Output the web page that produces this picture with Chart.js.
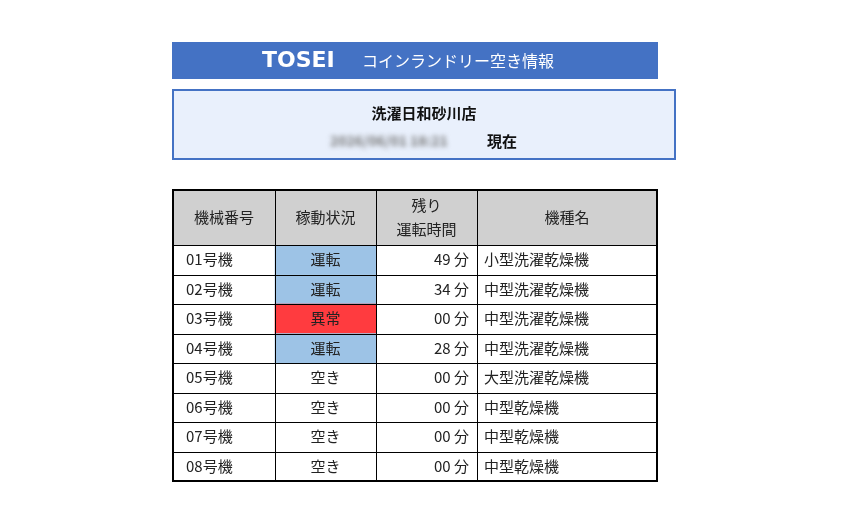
<!DOCTYPE html>
<html><head><meta charset="utf-8">
<script src="https://cdn.jsdelivr.net/npm/chart.js@4"></script>
<style>body{margin:0;background:#fff}#w{position:relative;width:855px;height:528px}
#d{position:absolute;left:330px;top:130px;font:bold 14px "Noto Sans CJK JP";color:#777;filter:blur(2.5px)}</style>
</head><body><div id="w"><canvas id="c" width="855" height="528"></canvas><div id="d">2026/06/01 18:21</div></div>
<script>
const machines = ['01号機','02号機','03号機','04号機','05号機','06号機','07号機','08号機'];
const statuses = ['運転','運転','異常','運転','空き','空き','空き','空き'];
const minutes = ['49','34','00','28','00','00','00','00'];
const models = ['小型洗濯乾燥機','中型洗濯乾燥機','中型洗濯乾燥機','中型洗濯乾燥機','大型洗濯乾燥機','中型乾燥機','中型乾燥機','中型乾燥機'];
const headers = ['機械番号','稼動状況','残り\n運転時間','機種名'];
const colEdges = [173, 275, 376, 477, 657];
const statusColors = {'運転':'#9DC3E6','異常':'#FF3B3F','空き':null};
const JP = '"Noto Sans CJK JP", sans-serif';

const tablePlugin = {
    id: 'table',
    beforeDatasetsDraw(chart) {
        const ctx = chart.ctx, a = chart.chartArea, x = chart.scales.x;
        ctx.save();
        // title bar
        ctx.fillStyle = '#4472C4';
        ctx.fillRect(172, 42, 486, 37);
        ctx.fillStyle = '#fff';
        ctx.font = 'bold 22px "DejaVu Sans"';
        ctx.textBaseline = 'middle';
        ctx.fillText('TOSEI', 262, 61);
        ctx.font = '16px ' + JP;
        ctx.fillText('コインランドリー空き情報', 362, 61);
        // store box
        ctx.fillStyle = '#E9F0FC';
        ctx.fillRect(173, 90, 502, 69);
        ctx.strokeStyle = '#4472C4';
        ctx.lineWidth = 2;
        ctx.strokeRect(173, 90, 502, 69);
        ctx.fillStyle = '#111';
        ctx.font = 'bold 15px ' + JP;
        ctx.textAlign = 'center';
        ctx.fillText('洗濯日和砂川店', 424, 113);
        ctx.textAlign = 'left';
        ctx.fillText('現在', 487, 141);
        // header row
        const hTop = 190;
        ctx.fillStyle = '#D0D0D0';
        ctx.fillRect(a.left, hTop, a.right - a.left, a.top - hTop);
        ctx.fillStyle = '#222';
        ctx.font = '15px ' + JP;
        ctx.textAlign = 'center';
        headers.forEach((h, i) => {
            const cx = (x.getPixelForValue(colEdges[i]) + x.getPixelForValue(colEdges[i + 1])) / 2;
            const lines = h.split('\n');
            lines.forEach((l, j) => {
                ctx.fillText(l, cx, (hTop + a.top) / 2 + (j - (lines.length - 1) / 2) * 24);
            });
        });
        ctx.restore();
    },
    afterDatasetsDraw(chart) {
        const ctx = chart.ctx, a = chart.chartArea, x = chart.scales.x, y = chart.scales.y;
        const hTop = 190;
        const rowH = (a.bottom - a.top) / machines.length;
        ctx.save();
        ctx.fillStyle = '#222';
        ctx.font = '15px ' + JP;
        ctx.textBaseline = 'middle';
        machines.forEach((m, i) => {
            const cy = y.getPixelForValue(i);
            ctx.textAlign = 'left';
            ctx.fillText(m, x.getPixelForValue(colEdges[0]) + 13, cy);
            ctx.textAlign = 'center';
            ctx.fillText(statuses[i], (x.getPixelForValue(colEdges[1]) + x.getPixelForValue(colEdges[2])) / 2, cy);
            ctx.textAlign = 'right';
            ctx.fillText(minutes[i] + ' 分', x.getPixelForValue(colEdges[3]) - 8, cy);
            ctx.textAlign = 'left';
            ctx.fillText(models[i], x.getPixelForValue(colEdges[3]) + 7, cy);
        });
        // grid
        ctx.strokeStyle = '#000';
        ctx.lineWidth = 1;
        ctx.beginPath();
        for (let i = 1; i < colEdges.length - 1; i++) {
            const px = Math.round(x.getPixelForValue(colEdges[i])) + 0.5;
            ctx.moveTo(px, hTop); ctx.lineTo(px, a.bottom);
        }
        for (let i = 0; i < machines.length; i++) {
            const py = Math.round(a.top + i * rowH) + 0.5;
            ctx.moveTo(a.left, py); ctx.lineTo(a.right, py);
        }
        ctx.stroke();
        ctx.lineWidth = 2;
        ctx.strokeRect(a.left, hTop, a.right - a.left, a.bottom - hTop);
        ctx.restore();
    }
};

new Chart(document.getElementById('c'), {
    type: 'bar',
    data: {
        labels: machines,
        datasets: [{
            data: statuses.map(s => statusColors[s] ? [colEdges[1], colEdges[2]] : null),
            backgroundColor: statuses.map(s => statusColors[s] || 'rgba(0,0,0,0)'),
            barPercentage: 1,
            categoryPercentage: 1,
            borderSkipped: false
        }]
    },
    options: {
        indexAxis: 'y',
        responsive: false,
        animation: false,
        layout: { padding: { left: 173, right: 198, top: 245, bottom: 47 } },
        scales: {
            x: { type: 'linear', min: colEdges[0], max: colEdges[colEdges.length - 1], display: false },
            y: { display: false, offset: true }
        },
        plugins: { legend: { display: false }, tooltip: { enabled: false } }
    },
    plugins: [tablePlugin]
});
</script>
</body></html>
